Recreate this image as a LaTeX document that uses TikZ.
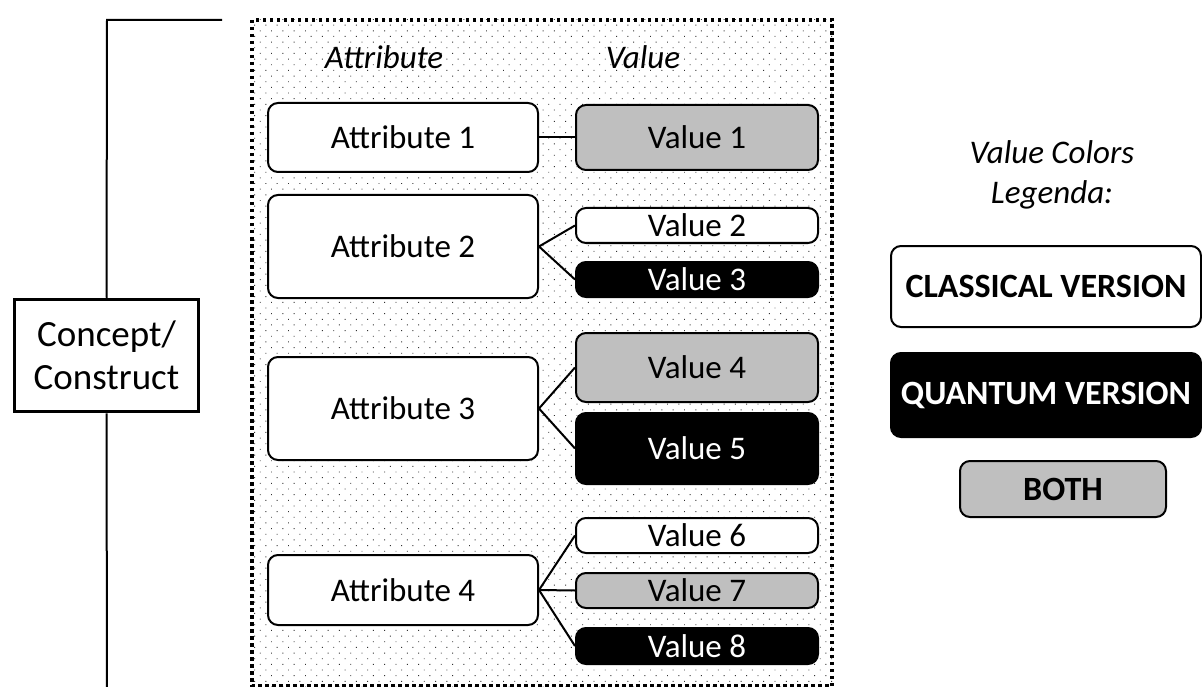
\documentclass[tikz,border=0pt]{standalone}
\usepackage{fontspec}
\setmainfont{Carlito}
\usetikzlibrary{patterns.meta}
\definecolor{both}{HTML}{BFBFBF}
\begin{document}
\begin{tikzpicture}[x=1pt,y=-1pt,
  box/.style={draw=black, line width=2pt, rounded corners=10pt, inner sep=0pt, align=center,
              font=\fontsize{33}{40}\selectfont},
  attr/.style={box, fill=white, minimum width=270pt},
  valw/.style={box, fill=white, minimum width=242pt},
  valb/.style={box, fill=black, text=white, minimum width=242pt},
  valg/.style={box, fill=both, minimum width=242pt},
  conn/.style={draw=black, line width=2pt},
  hdr/.style={font=\fontsize{33}{40}\selectfont\itshape, inner sep=0pt},
  leg/.style={draw=black, line width=2pt, rounded corners=10pt, inner sep=0pt,
              font=\fontsize{34}{40}\selectfont\bfseries}
]
\useasboundingbox (0,0) rectangle (1202,687);
% container
\path[pattern={Dots[angle=45,distance=8pt,radius=0.65pt]}, pattern color=black!80]
  (252,20) rectangle (832,686);
\draw[line width=3.5pt, dash pattern=on 3.5pt off 3.5pt] (252,20) rectangle (832,686);
% headers
\node[hdr] (hA) at (384,57) {Attribute};
\node[hdr] (hV) at (643,57) {Value};
% concept
\node[draw=black, line width=3.5pt, minimum width=184pt, minimum height=112pt, inner sep=0pt,
      align=center, font=\fontsize{37}{43}\selectfont] (concept) at (106.5,355.5) {Concept/\\Construct};
\coordinate (btop) at (107,20);
\coordinate (bend) at (222,20);
\coordinate (bbot) at (107,690);
\draw[conn] (concept.north) -- (btop) -- (bend);
\draw[conn] (concept.south) -- (bbot);
% attributes
\node[attr, minimum height=69pt] (a1) at (403,137.5) {Attribute 1};
\node[attr, minimum height=103pt] (a2) at (403,246.5) {Attribute 2};
\node[attr, minimum height=103pt] (a3) at (403,408.5) {Attribute 3};
\node[attr, minimum height=70pt] (a4) at (403,590) {Attribute 4};
% values
\node[valg, minimum height=65pt] (v1) at (697,137.5) {Value 1};
\node[valw, minimum height=35pt] (v2) at (697,225.5) {Value 2};
\node[valb, minimum height=35pt] (v3) at (697,279.5) {Value 3};
\node[valg, minimum height=69pt] (v4) at (697,367.5) {Value 4};
\node[valb, minimum height=71pt] (v5) at (697,448.5) {Value 5};
\node[valw, minimum height=35pt] (v6) at (697,535.5) {Value 6};
\node[valg, minimum height=35pt] (v7) at (697,590.5) {Value 7};
\node[valb, minimum height=36pt] (v8) at (697,646) {Value 8};
% connectors
\draw[conn] (a1.east) -- (v1.west);
\draw[conn] (a2.east) -- (v2.west);
\draw[conn] (a2.east) -- (v3.west);
\draw[conn] (a3.east) -- (v4.west);
\draw[conn] (a3.east) -- (v5.west);
\draw[conn] (a4.east) -- (v6.west);
\draw[conn] (a4.east) -- (v7.west);
\draw[conn] (a4.east) -- (v8.west);
% legend
\node[hdr, align=center] (lt) at (1052,175) {Value Colors\\Legenda:};
\node[leg, fill=white, minimum width=310pt, minimum height=81pt] (lc) at (1046,286.5) {CLASSICAL VERSION};
\node[leg, fill=black, text=white, minimum width=310pt, minimum height=84pt] (lq) at (1046,395) {QUANTUM VERSION};
\node[leg, fill=both, minimum width=206pt, minimum height=56pt] (lb) at (1063,489) {BOTH};
\end{tikzpicture}
\end{document}
